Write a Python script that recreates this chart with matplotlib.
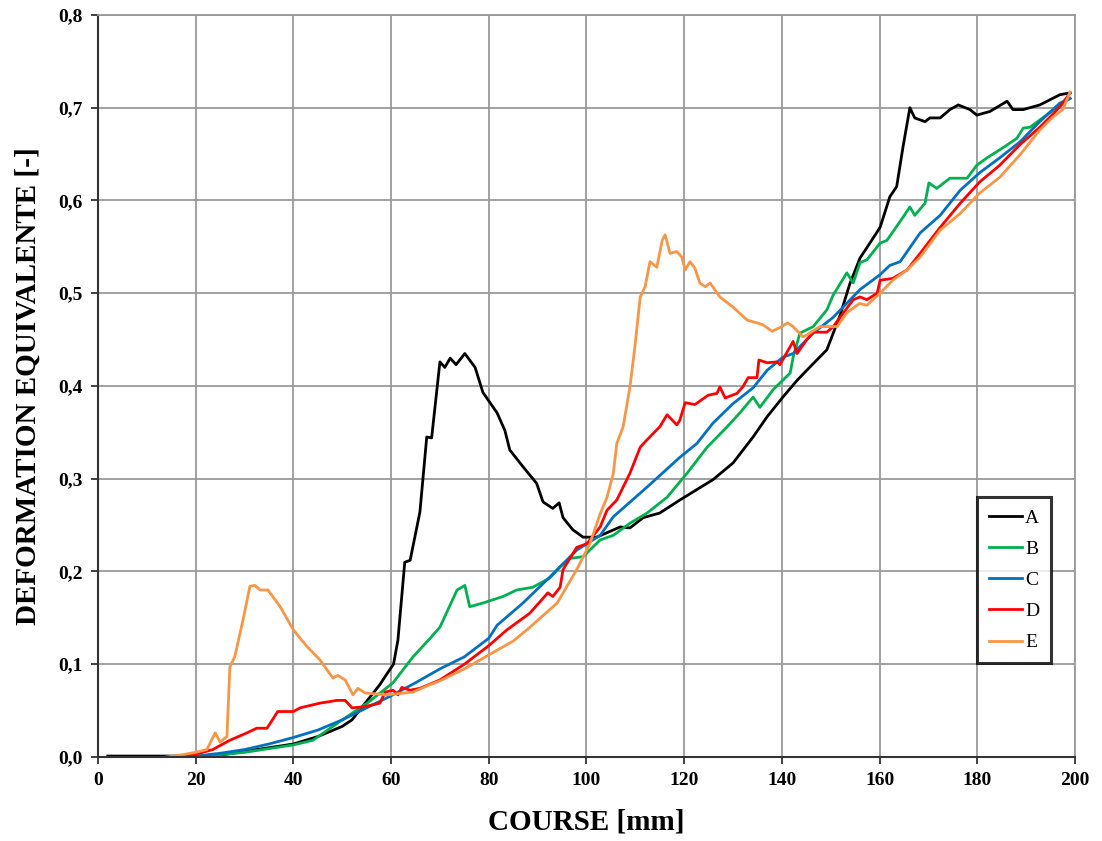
import matplotlib
matplotlib.use('Agg')
import matplotlib.pyplot as plt
from matplotlib.ticker import FuncFormatter, MultipleLocator

# --- data ---
x_a = [2, 10, 18, 20, 25, 30, 35, 40, 45, 50, 52, 55, 57.7, 59.2, 60.5, 61.4, 62.8, 63.9, 65.9, 67.3, 68.3,
       70.0, 71.0, 72.1, 73.3, 75.1, 77.2, 78.8, 81.7, 83.3, 84.3, 87.0, 89.8, 91.1, 93.1, 94.4, 95.2, 97.2,
       99.3, 102.1, 106.9, 108.9, 111.6, 115.0, 119.1, 125.9, 130.0, 134.1, 137.0, 140.2, 143.1, 146.4, 149.2,
       151.9, 153.9, 156.0, 158.0, 160.1, 162.1, 163.5, 164.8, 166.2, 167.2, 169.3, 170.3, 172.4, 174.4, 176.1,
       178.5, 179.9, 182.6, 186.1, 187.3, 189.4, 192.8, 196.9, 199]
y_a = [0.001, 0.001, 0.001, 0.0, 0.002, 0.006, 0.01, 0.014, 0.022, 0.033, 0.04, 0.06, 0.078, 0.09, 0.1, 0.126,
       0.21, 0.212, 0.264, 0.345, 0.344, 0.426, 0.42, 0.43, 0.423, 0.435, 0.42, 0.393, 0.371, 0.352, 0.331,
       0.313, 0.295, 0.275, 0.268, 0.274, 0.258, 0.245, 0.237, 0.237, 0.248, 0.247, 0.258, 0.263, 0.277, 0.299,
       0.317, 0.345, 0.367, 0.388, 0.406, 0.424, 0.439, 0.476, 0.51, 0.538, 0.554, 0.571, 0.604, 0.615, 0.658,
       0.7, 0.689, 0.685, 0.689, 0.689, 0.698, 0.703, 0.698, 0.692, 0.696, 0.707, 0.698, 0.698, 0.703, 0.714,
       0.716]

x_b = [20, 30, 40, 44, 50, 55.1, 60.4, 64.5, 68, 70, 73.5, 75.1, 76.1, 78.8, 82.9, 85.7, 89, 92.5, 94.6, 96.6,
       99.3, 102.8, 105.5, 108.9, 112.4, 116.5, 120.6, 124.7, 128.8, 131.4, 134.1, 135.5, 138.2, 141.7, 142.3,
       143.7, 146.4, 149.2, 150.5, 153.3, 154.6, 156.0, 157.4, 160.1, 161.5, 162.7, 164.8, 166.2, 167.2, 169.3,
       170.1, 171.7, 174.4, 177.9, 179.9, 182, 185.3, 188.1, 189.4, 190.8, 194.9, 199]
y_b = [0.0, 0.005, 0.013, 0.018, 0.04, 0.058, 0.08, 0.108, 0.128, 0.14, 0.18, 0.185, 0.162, 0.166, 0.173, 0.18,
       0.183, 0.193, 0.205, 0.214, 0.216, 0.234, 0.239, 0.252, 0.263, 0.28, 0.306, 0.334, 0.356, 0.371, 0.388,
       0.377, 0.396, 0.414, 0.431, 0.457, 0.464, 0.482, 0.498, 0.522, 0.511, 0.533, 0.536, 0.554, 0.557, 0.566,
       0.582, 0.593, 0.584, 0.597, 0.619, 0.613, 0.624, 0.624, 0.638, 0.646, 0.657, 0.667, 0.678, 0.679, 0.695,
       0.71]

x_c = [18, 20, 25, 30, 35, 40, 45, 50, 55, 60, 65, 70, 75, 80, 81.7, 87, 92.5, 98, 102.8, 105.5, 112.4, 119.1,
       122.6, 125.9, 130, 134.1, 137, 140.2, 142.3, 146.4, 150.5, 156, 160.1, 162.1, 164.2, 168.3, 172.4, 176.5,
       180.5, 184.6, 188.7, 192.8, 196.9, 199]
y_c = [0.0, 0.001, 0.004, 0.008, 0.014, 0.021, 0.029, 0.04, 0.053, 0.066, 0.08, 0.095, 0.108, 0.128, 0.142,
       0.166, 0.194, 0.223, 0.239, 0.259, 0.291, 0.323, 0.338, 0.36, 0.381, 0.398, 0.417, 0.431, 0.435, 0.457,
       0.474, 0.504, 0.52, 0.53, 0.534, 0.565, 0.584, 0.611, 0.63, 0.646, 0.663, 0.685, 0.705, 0.71]

x_d = [16, 20, 23.5, 27, 30.5, 32.5, 34.6, 36.8, 40, 41.4, 45.4, 48.9, 50.6, 52, 54.3, 57.7, 58.8, 60.4, 61.4,
       62.2, 63.9, 65.9, 70, 75, 80, 83.7, 88.4, 92.1, 93.1, 94.6, 95.2, 98, 100.1, 102.8, 104.2, 106.2, 108.9,
       111, 112.4, 115, 116.5, 118.5, 119.1, 120.2, 122.2, 124.9, 126.7, 127.3, 128.4, 130.8, 132, 133.1, 134.9,
       135.3, 137, 139, 139.6, 142.3, 143.1, 145.1, 146.4, 149.2, 150.5, 151.9, 154.6, 156, 157.4, 159.5, 160.1,
       162.7, 165.6, 168.3, 172.4, 176.5, 180.5, 184.6, 188.7, 192.8, 194.9, 196.9, 199]
y_d = [0.0, 0.003, 0.008, 0.018, 0.026, 0.031, 0.031, 0.049, 0.049, 0.053, 0.058, 0.061, 0.061, 0.053, 0.054,
       0.058, 0.07, 0.072, 0.067, 0.075, 0.072, 0.074, 0.083, 0.1, 0.12, 0.137, 0.155, 0.177, 0.173, 0.183,
       0.202, 0.226, 0.23, 0.248, 0.266, 0.277, 0.306, 0.334, 0.342, 0.356, 0.369, 0.358, 0.363, 0.382, 0.38,
       0.39, 0.392, 0.399, 0.387, 0.392, 0.399, 0.409, 0.409, 0.428, 0.425, 0.426, 0.423, 0.448, 0.435, 0.45,
       0.458, 0.458, 0.464, 0.474, 0.493, 0.496, 0.493, 0.5, 0.514, 0.516, 0.525, 0.543, 0.571, 0.597, 0.62,
       0.638, 0.66, 0.679, 0.69, 0.701, 0.716]

x_e = [14, 16.8, 20, 22.3, 24, 25, 26.4, 27, 28, 29.7, 31.1, 32.1, 33.2, 34.8, 37.3, 40, 42.8, 45.4, 48.1, 49.1,
       50.6, 52.2, 53.2, 54.7, 59.2, 64.5, 68, 70, 75, 80, 85, 87.8, 94, 98, 100.7, 102.8, 104.2, 105.5, 106.2,
       107.5, 108.9, 109.9, 111, 112, 113, 114.4, 115.5, 116.1, 117.1, 118.5, 119.5, 120.2, 121.2, 122.2, 123.2,
       124.3, 125.3, 127.3, 130, 132.9, 134.9, 136.1, 138, 139.6, 141.2, 142.3, 144.3, 145.1, 147.8, 151.3,
       153.3, 155.9, 157.4, 160.1, 162.7, 165.6, 168.3, 172.4, 176.5, 180.5, 184.6, 188.7, 192.8, 195.5, 197.5,
       199]
y_e = [0.0, 0.002, 0.005, 0.008, 0.026, 0.016, 0.022, 0.097, 0.108, 0.148, 0.184, 0.185, 0.18, 0.18, 0.162,
       0.137, 0.119, 0.105, 0.085, 0.088, 0.083, 0.067, 0.074, 0.069, 0.067, 0.07, 0.078, 0.082, 0.095, 0.11,
       0.125, 0.137, 0.166, 0.202, 0.23, 0.262, 0.28, 0.306, 0.338, 0.356, 0.399, 0.442, 0.496, 0.507, 0.534,
       0.528, 0.557, 0.563, 0.543, 0.545, 0.539, 0.525, 0.534, 0.527, 0.511, 0.507, 0.511, 0.496, 0.485, 0.471,
       0.468, 0.466, 0.459, 0.463, 0.468, 0.464, 0.453, 0.455, 0.464, 0.464, 0.479, 0.489, 0.487, 0.5, 0.514,
       0.525, 0.539, 0.568, 0.586, 0.608, 0.625, 0.649, 0.676, 0.69, 0.698, 0.717]

series = [("A", x_a, y_a, "#000000"),
          ("B", x_b, y_b, "#00B050"),
          ("C", x_c, y_c, "#0070C0"),
          ("D", x_d, y_d, "#FF0000"),
          ("E", x_e, y_e, "#F79646")]

plt.rcParams['font.family'] = ['Liberation Serif', 'DejaVu Serif']

fig = plt.figure(figsize=(11.02, 8.41), dpi=100)
ax = fig.add_axes([0.0889, 0.0999, 0.8866, 0.8823])

for name, xs, ys, col in series:
    ax.plot(xs, ys, color=col, lw=2.0, label=name, solid_joinstyle='round')

ax.set_xlim(0, 200)
ax.set_ylim(0, 0.8)
ax.xaxis.set_major_locator(MultipleLocator(20))
ax.yaxis.set_major_locator(MultipleLocator(0.1))
ax.yaxis.set_major_formatter(FuncFormatter(lambda v, p: f"{v:.1f}".replace('.', ',')))
ax.grid(True, color='#9a9a9a', lw=1.3)
ax.set_axisbelow(True)

for s in ['top', 'right']:
    ax.spines[s].set_color('#9a9a9a')
    ax.spines[s].set_linewidth(1.3)
for s in ['left', 'bottom']:
    ax.spines[s].set_color('#333333')
    ax.spines[s].set_linewidth(1.5)
ax.tick_params(direction='out', length=5, width=1.3, color='#333333', labelsize=14, pad=6)
for lab in ax.get_xticklabels() + ax.get_yticklabels():
    lab.set_fontweight('bold')

ax.set_xlabel("COURSE [mm]", fontsize=21, fontweight='bold', labelpad=14)
ax.set_ylabel("DEFORMATION EQUIVALENTE [-]", fontsize=21, fontweight='bold', labelpad=12)

leg = ax.legend(loc='upper left', bbox_to_anchor=(0.9, 0.35), fontsize=14, frameon=True, fancybox=False,
                handlelength=1.7, handletextpad=0.15, labelspacing=0.7, borderpad=0.6, borderaxespad=0)
leg.get_frame().set_edgecolor('black')
leg.get_frame().set_linewidth(2.2)

fig.savefig('out.png', dpi=100)
